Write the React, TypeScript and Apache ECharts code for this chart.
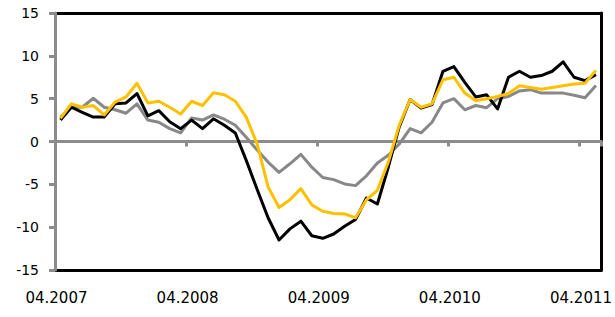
import React, { useEffect, useRef } from "react";
import * as echarts from "echarts";

// Monthly categories from 04.2007 to 05.2011
const START_YEAR = 2007;
const START_MONTH = 4;
const MONTH_COUNT = 50;
const categories: string[] = [];
for (let k = 0; k < MONTH_COUNT; k++) {
  const m = ((START_MONTH - 1 + k) % 12) + 1;
  const y = START_YEAR + Math.floor((START_MONTH - 1 + k) / 12);
  categories.push(`${m < 10 ? "0" + m : m}.${y}`);
}

const yTicks = [-15, -10, -5, 0, 5, 10, 15];

const blackSeries = [
  2.5, 4.0, 3.4, 2.85, 2.85, 4.4, 4.5, 5.6, 3.0, 3.6,
  2.3, 1.5, 2.5, 1.5, 2.65, 1.9, 1.0, -2.2, -5.6, -8.9,
  -11.5, -10.2, -9.3, -11.0, -11.3, -10.8, -9.9, -9.1, -6.6, -7.3,
  -3.0, 1.7, 4.9, 3.9, 4.3, 8.2, 8.75, 6.9, 5.2, 5.45,
  3.8, 7.5, 8.2, 7.5, 7.7, 8.2, 9.3, 7.5, 7.1, 7.8,
];

const goldSeries = [
  2.7, 4.4, 4.0, 4.2, 3.1, 4.6, 5.2, 6.8, 4.5, 4.7,
  4.0, 3.2, 4.7, 4.2, 5.7, 5.45, 4.7, 2.85, -0.3, -5.3,
  -7.7, -6.8, -5.5, -7.4, -8.15, -8.4, -8.45, -8.9, -6.8, -5.7,
  -2.4, 1.9, 4.9, 4.0, 4.4, 7.2, 7.5, 5.65, 4.75, 5.0,
  5.25, 5.6, 6.5, 6.3, 6.1, 6.3, 6.5, 6.7, 6.8, 8.3,
];

const graySeries = [
  2.85, 4.0, 4.0, 5.05, 4.0, 3.7, 3.3, 4.4, 2.5, 2.25,
  1.5, 1.0, 2.75, 2.5, 3.1, 2.6, 1.9, 0.5, -1.0, -2.4,
  -3.6, -2.6, -1.5, -3.0, -4.2, -4.45, -4.95, -5.15, -4.0, -2.5,
  -1.6, -0.3, 1.5, 1.0, 2.25, 4.5, 5.0, 3.7, 4.2, 3.95,
  5.0, 5.25, 5.9, 6.05, 5.65, 5.65, 5.65, 5.4, 5.1, 6.55,
];

const FONT = "DejaVu Sans";
const AXIS_GRAY = "#8c8c8c";

export default function App() {
  const ref = useRef<HTMLDivElement>(null);
  useEffect(() => {
    if (!ref.current) return;
    const chart = echarts.init(ref.current, undefined, { renderer: "svg" });
    const lineSeries = (name: string, data: number[], color: string) => ({
      name,
      type: "line",
      data,
      xAxisIndex: 0,
      yAxisIndex: 0,
      symbol: "none",
      lineStyle: { color, width: 3, join: "round" },
      z: 3,
    });
    const frameX = (position: string) => ({
      type: "category",
      data: categories,
      boundaryGap: true,
      position,
      axisLine: { show: true, onZero: false, lineStyle: { color: "#000000", width: 3 } },
      axisTick: { show: false },
      axisLabel: { show: false },
      splitLine: { show: false },
      z: 1,
    });
    chart.setOption({
      animation: false,
      backgroundColor: "#ffffff",
      grid: {
        left: 55,
        right: 12,
        top: 13,
        bottom: 47,
        show: false,
      },
      xAxis: [
        {
          type: "category",
          data: categories,
          boundaryGap: true,
          position: "bottom",
          axisLine: { show: true, onZero: false, lineStyle: { color: "#000000", width: 3 } },
          axisTick: { show: false },
          splitLine: { show: false },
          axisLabel: {
            interval: 11,
            fontFamily: FONT,
            fontSize: 15,
            color: "#000000",
            margin: 20,
            padding: [0, 8, 0, 0],
          },
          z: 1,
        },
        {
          type: "category",
          data: categories,
          boundaryGap: true,
          position: "bottom",
          axisLine: { show: true, onZero: true, lineStyle: { color: AXIS_GRAY, width: 3 } },
          axisTick: { show: true, interval: 11, length: 5, lineStyle: { color: AXIS_GRAY, width: 3 } },
          axisLabel: { show: false },
          splitLine: { show: false },
          z: 2,
        },
        frameX("top"),
      ],
      yAxis: [
        {
          type: "value",
          min: yTicks[0],
          max: yTicks[yTicks.length - 1],
          interval: 5,
          position: "left",
          axisLine: { show: true, onZero: false, lineStyle: { color: AXIS_GRAY, width: 3 } },
          axisTick: { show: true, length: 6, lineStyle: { color: AXIS_GRAY, width: 3 } },
          splitLine: { show: false },
          axisLabel: {
            fontFamily: FONT,
            fontSize: 14,
            color: "#000000",
            margin: 16,
          },
          z: 4,
        },
        {
          type: "value",
          min: yTicks[0],
          max: yTicks[yTicks.length - 1],
          interval: 5,
          position: "right",
          axisLine: { show: true, onZero: false, lineStyle: { color: "#000000", width: 3 } },
          axisTick: { show: false },
          axisLabel: { show: false },
          splitLine: { show: false },
          z: 1,
        },
      ],
      series: [
        lineSeries("Gray", graySeries, "#888888"),
        lineSeries("Black", blackSeries, "#000000"),
        lineSeries("Gold", goldSeries, "#ffc000"),
      ],
    });
    return () => chart.dispose();
  }, []);
  return <div ref={ref} style={{ width: 615, height: 317, position: "absolute", left: 0, top: 0 }} />;
}
